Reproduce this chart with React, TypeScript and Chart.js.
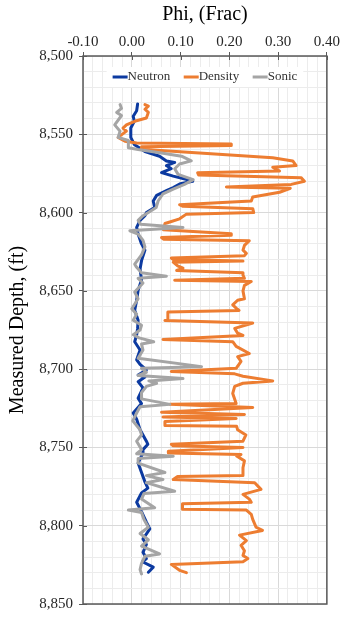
import React, { useEffect, useRef } from 'react';
import { Chart, registerables } from 'chart.js';

Chart.register(...registerables);

const xTitle = 'Phi, (Frac)';
const yTitle = 'Measured Depth, (ft)';
const seriesNames = ['Neutron', 'Density', 'Sonic'];
const seriesColors = ['#0c3aa0', '#ed7d31', '#a5a5a5'];

const xMin = -0.1;
const xMax = 0.4;
const xMajor = 0.1;
const xMinor = 0.02;
const yMin = 8500;
const yMax = 8850;
const yMajor = 50;
const yMinor = 10;

const neutronDepth = [
  8530.7, 8535, 8538.5, 8541.7, 8546, 8552, 8556.5, 8561, 8564, 8567, 8568, 8570, 8572, 8574.5,
  8576.7, 8579, 8580, 8581.5, 8584, 8586, 8589, 8592.6, 8596.8, 8600, 8602, 8605, 8609.5, 8613.7,
  8620, 8624, 8630.7, 8636, 8643, 8649.7, 8656, 8662.4, 8668.8, 8674, 8678, 8682.5, 8687.8, 8694,
  8697, 8700.5, 8703.7, 8705, 8708, 8712, 8718.5, 8722, 8728, 8732, 8738.7, 8746, 8748, 8751.4,
  8753.5, 8760, 8766, 8772, 8776, 8779, 8785, 8791, 8797.7, 8802, 8808.5, 8812, 8817, 8821, 8823,
  8826.5, 8829.7,
];
const neutronPhi = [
  0.012, 0.01, 0.003, 0.005, -0.002, -0.002, 0.005, 0.027, 0.057, 0.071, 0.088, 0.071, 0.081, 0.061,
  0.085, 0.115, 0.125, 0.1, 0.085, 0.071, 0.051, 0.044, 0.047, 0.03, 0.027, 0.017, 0.01, 0.013,
  0.02, 0.027, 0.02, 0.017, 0.02, 0.013, 0.01, 0.006, 0.013, 0.012, 0.01, 0.006, 0.017, 0.01,
  0.017, 0.03, 0.013, 0.027, 0.013, 0.023, 0.013, 0.02, 0.003, 0.01, 0.017, 0.03, 0.033, 0.023,
  0.023, 0.013, 0.02, 0.027, 0.033, 0.02, 0.01, 0.02, 0.03, 0.037, 0.023, 0.03, 0.023, 0.03, 0.022,
  0.044, 0.034,
];

const densityDepth = [
  8531, 8532, 8534, 8536, 8539.6, 8541.7, 8544, 8546, 8548, 8552, 8554.4, 8555.5, 8556.2, 8557.2,
  8558, 8559.5, 8565, 8567, 8570, 8571, 8573.5, 8574.5, 8576, 8577.7, 8580, 8582, 8583.6, 8584.5,
  8587, 8590, 8592.6, 8595, 8596, 8597.5, 8600, 8601, 8604, 8606, 8607, 8611, 8613.5, 8614.5, 8616,
  8617, 8618, 8621, 8624, 8626, 8627.5, 8629, 8630, 8631, 8631.7, 8634, 8635.5, 8637, 8638.5, 8640,
  8642, 8643.2, 8644, 8646.5, 8650, 8655, 8656, 8659, 8661, 8662.5, 8663.5, 8668, 8669, 8670.5, 8674,
  8677, 8678.5, 8681, 8682.5, 8685.5, 8690, 8692, 8695, 8699.5, 8701.5, 8703, 8704.5, 8707.5, 8709,
  8711, 8715.5, 8722, 8722.4, 8724.5, 8727.5, 8729, 8730.6, 8731.5, 8733.5, 8736, 8736.5, 8738.7,
  8742, 8746, 8748, 8749, 8750, 8752.5, 8753.5, 8754.5, 8755.5, 8758.6, 8763, 8768, 8768.5, 8770.5,
  8772.5, 8776.8, 8780, 8783, 8785, 8786, 8789.5, 8790, 8792.7, 8796, 8801, 8803, 8806, 8809.5,
  8812.5, 8816, 8819, 8821, 8823, 8824.7, 8828.5, 8830,
];
const densityPhi = [
  0.027, 0.034, 0.027, 0.034, 0.03, 0.006, -0.011, -0.018, -0.011, -0.028, -0.014, 0.01, 0.204, 0.204,
  0.02, 0.02, 0.289, 0.33, 0.337, 0.289, 0.303, 0.135, 0.137, 0.347, 0.354, 0.327, 0.194, 0.325,
  0.303, 0.248, 0.245, 0.098, 0.105, 0.248, 0.25, 0.112, 0.098, 0.078, 0.068, 0.065, 0.204, 0.204, 0.061,
  0.065, 0.241, 0.231, 0.228, 0.235, 0.231, 0.081, 0.085, 0.228, 0.085, 0.094, 0.105, 0.092, 0.228, 0.228,
  0.231, 0.088, 0.245, 0.231, 0.228, 0.231, 0.217, 0.207, 0.214, 0.22, 0.074, 0.074, 0.068, 0.248, 0.211,
  0.217, 0.228, 0.064, 0.207, 0.214, 0.241, 0.217, 0.224, 0.214, 0.081, 0.211, 0.228, 0.289, 0.228,
  0.211, 0.207, 0.214, 0.078, 0.248, 0.061, 0.231, 0.064, 0.214, 0.068, 0.068, 0.215, 0.217,
  0.234, 0.228, 0.081, 0.085, 0.228, 0.075, 0.075, 0.224, 0.215, 0.231, 0.228, 0.228, 0.094, 0.085,
  0.252, 0.265, 0.228, 0.241, 0.245, 0.104, 0.104, 0.235, 0.245, 0.248, 0.255, 0.268, 0.221, 0.235,
  0.224, 0.231, 0.228, 0.238, 0.228, 0.081, 0.098, 0.112,
];

const sonicDepth = [
  8531, 8533.5, 8536, 8538, 8544, 8548, 8552, 8554, 8558.6, 8559.7, 8562, 8564, 8567, 8569, 8572,
  8575.6, 8577, 8579, 8582, 8585, 8588, 8592.6, 8596.8, 8600, 8602, 8605, 8607.5, 8609.5, 8611.6,
  8613.7, 8617.8, 8622, 8627, 8633, 8635, 8638.5, 8640.6, 8642, 8645, 8650.8, 8655, 8661.4, 8665,
  8668.8, 8672, 8675, 8678, 8680, 8682.5, 8684, 8687.8, 8693, 8698.4, 8699.5, 8702, 8704, 8706,
  8707.5, 8709, 8711, 8715, 8719, 8722.5, 8724, 8728, 8733, 8738.7, 8742, 8746, 8751.4, 8754,
  8755.6, 8757, 8760, 8766, 8768, 8770.5, 8772.5, 8778, 8779.5, 8783, 8788.5, 8790, 8791.5, 8796,
  8801, 8805, 8809, 8813, 8818, 8819.5, 8824, 8828, 8830.8,
];
const sonicPhi = [
  -0.024, -0.021, -0.031, -0.021, -0.035, -0.024, -0.028, -0.007, -0.007, 0.013, 0.061, 0.102, 0.122, 0.098, 0.088,
  0.095, 0.108, 0.126, 0.108, 0.085, 0.064, 0.054, 0.05, 0.034, 0.023, 0.013, 0.018, 0.105, -0.004,
  0.013, 0.023, 0.027, 0.02, 0.006, 0.01, 0.02, 0.071, 0.013, 0.023, 0.006, 0.013, 0.0, 0.01,
  0.003, 0.02, 0.017, 0.003, 0.015, 0.045, 0.02, 0.023, 0.013, 0.143, 0.02, 0.03, 0.013, 0.105,
  0.035, 0.051, 0.03, 0.02, 0.02, 0.078, 0.017, 0.01, 0.002, 0.017, 0.02, 0.01, 0.02, 0.01,
  0.085, 0.013, 0.013, 0.068, 0.03, 0.064, 0.03, 0.088, 0.025, 0.02, 0.047, -0.007, 0.02, 0.025,
  0.034, 0.017, 0.034, 0.02, 0.057, 0.027, 0.02, 0.017, 0.02,
];

const FONT = "'Liberation Serif', 'Times New Roman', serif";
const AXIS = '#595959';

const isMajor = (v: number, step: number) => {
  const r = v / step;
  return Math.abs(r - Math.round(r)) < 1e-6;
};

const toPoints = (depth: number[], phi: number[]) => depth.map((d, i) => ({ x: phi[i], y: d }));

const decor = {
  id: 'decor',
  afterDraw(chart: any) {
    const { ctx, chartArea: a, scales } = chart;
    ctx.save();
    // plot border
    ctx.strokeStyle = AXIS;
    ctx.lineWidth = 1.5;
    ctx.strokeRect(a.left, a.top, a.right - a.left, a.bottom - a.top);
    // inner halves of major tick marks
    ctx.lineWidth = 1;
    ctx.beginPath();
    for (let v = xMin; v <= xMax + 1e-9; v += xMajor) {
      const px = Math.round(scales.x.getPixelForValue(v)) + 0.5;
      ctx.moveTo(px, a.top);
      ctx.lineTo(px, a.top + 4);
    }
    for (let v = yMin; v <= yMax; v += yMajor) {
      const py = Math.round(scales.y.getPixelForValue(v)) + 0.5;
      ctx.moveTo(a.left, py);
      ctx.lineTo(a.left + 4, py);
    }
    ctx.stroke();
    // legend
    ctx.font = `13px ${FONT}`;
    const lineLen = 15;
    const gap = 13.5;
    const widths = seriesNames.map((n) => ctx.measureText(n).width);
    const total = widths.reduce((s, w) => s + w + lineLen, 0) + gap * (seriesNames.length - 1);
    const cx = (a.left + a.right) / 2;
    const cy = a.top + 21;
    ctx.fillStyle = '#ffffff';
    ctx.fillRect(cx - total / 2 - 6, cy - 10, total + 12, 20);
    let x = cx - total / 2;
    seriesNames.forEach((n, i) => {
      ctx.strokeStyle = seriesColors[i];
      ctx.lineWidth = 3;
      ctx.beginPath();
      ctx.moveTo(x, cy);
      ctx.lineTo(x + lineLen, cy);
      ctx.stroke();
      ctx.fillStyle = '#333333';
      ctx.textAlign = 'left';
      ctx.textBaseline = 'middle';
      ctx.fillText(n, x + lineLen, cy);
      x += lineLen + widths[i] + gap;
    });
    ctx.restore();
  },
};

export default function App() {
  const ref = useRef<HTMLCanvasElement | null>(null);

  useEffect(() => {
    if (!ref.current) return;
    const mk = (i: number, depth: number[], phi: number[], order: number) => ({
      label: seriesNames[i],
      data: toPoints(depth, phi),
      showLine: true,
      borderColor: seriesColors[i],
      backgroundColor: seriesColors[i],
      borderWidth: 3,
      pointRadius: 0,
      pointHoverRadius: 0,
      tension: 0,
      borderJoinStyle: 'round' as const,
      borderCapStyle: 'round' as const,
      order,
    });
    const chart = new Chart(ref.current, {
      type: 'scatter',
      data: {
        datasets: [
          mk(0, neutronDepth, neutronPhi, 2),
          mk(1, densityDepth, densityPhi, 1),
          mk(2, sonicDepth, sonicPhi, 0),
        ],
      },
      options: {
        animation: false,
        responsive: false,
        devicePixelRatio: 1,
        layout: { padding: { left: 0, top: 0, right: 14, bottom: 12 } },
        plugins: { legend: { display: false }, tooltip: { enabled: false } },
        scales: {
          x: {
            type: 'linear',
            position: 'top',
            min: xMin,
            max: xMax,
            ticks: {
              stepSize: xMinor,
              autoSkip: false,
              maxRotation: 0,
              padding: 1,
              color: '#262626',
              font: { family: FONT, size: 15 },
              callback: (v: any) => {
                const n = Number(v);
                if (!isMajor(n, xMajor)) return '';
                return (Math.round(n * 100) / 100 + 0).toFixed(2);
              },
            },
            grid: {
              color: (c: any) => (c.tick && isMajor(c.tick.value, xMajor) ? '#d9d9d9' : '#ececec'),
              lineWidth: 1,
              drawTicks: true,
              tickLength: 4,
              tickColor: (c: any) => (c.tick && isMajor(c.tick.value, xMajor) ? AXIS : 'rgba(0,0,0,0)'),
            },
            border: { display: false },
            title: {
              display: true,
              text: xTitle,
              color: '#000000',
              font: { family: FONT, size: 20 },
              padding: { top: 3, bottom: 0 },
            },
            afterFit: (s: any) => {
              s.height = 56;
            },
          },
          y: {
            type: 'linear',
            position: 'left',
            reverse: true,
            min: yMin,
            max: yMax,
            ticks: {
              stepSize: yMinor,
              autoSkip: false,
              padding: 6,
              color: '#262626',
              font: { family: FONT, size: 15 },
              callback: (v: any) => {
                const n = Number(v);
                if (!isMajor(n, yMajor)) return '';
                return n.toLocaleString('en-US');
              },
            },
            grid: {
              color: (c: any) => (c.tick && isMajor(c.tick.value, yMajor) ? '#d9d9d9' : '#ececec'),
              lineWidth: 1,
              drawTicks: true,
              tickLength: 4,
              tickColor: (c: any) => (c.tick && isMajor(c.tick.value, yMajor) ? AXIS : 'rgba(0,0,0,0)'),
            },
            border: { display: false },
            title: {
              display: true,
              text: yTitle,
              color: '#000000',
              font: { family: FONT, size: 20 },
              padding: { top: 6, bottom: 0 },
            },
            afterFit: (s: any) => {
              s.width = 83;
            },
          },
        },
      },
      plugins: [decor],
    });
    return () => chart.destroy();
  }, []);

  return (
    <div style={{ position: 'fixed', left: 0, top: 0, width: 341, height: 619, background: '#fff' }}>
      <canvas ref={ref} width={341} height={619} style={{ display: 'block', width: 341, height: 619 }} />
    </div>
  );
}
